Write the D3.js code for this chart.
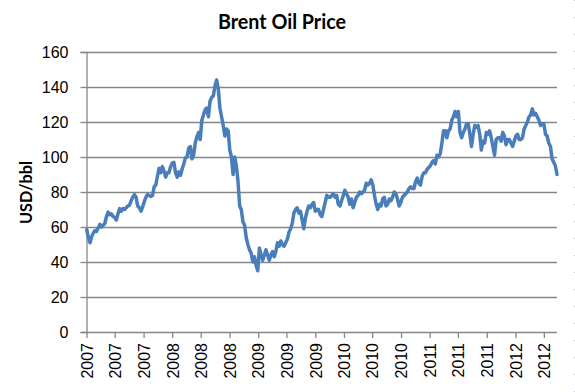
<!DOCTYPE html>
<html>
<head>
<meta charset="utf-8">
<script src="https://cdn.jsdelivr.net/npm/d3@7"></script>
<style>
  html, body { margin: 0; padding: 0; background: #fff; }
  svg { display: block; }
</style>
</head>
<body>
<svg id="chart" width="575" height="392"></svg>
<script>
// ---- Data: weekly Brent price (USD/bbl), one value per week starting Tue 2 Jan 2007 ----
const firstWeek = "2007-01-02";
const prices2007 = [58.5,54,51,54.5,56.5, 58,57.5,59.5,61.5, 60,61,62,66, 68.5,67,67.5,66,
  65.5,64,67.5,70.5,69, 70.5,70,71,72, 72.5,75,77,78.5,77, 72,71,69,71.5, 74.5,77,78.5,78,
  77.5,78,83,84,89, 93.5,91,94.5,92, 88.5,91,91,94.5];
const prices2008 = [96.5,97,91,88.5,91.5, 89.5,93,96,99.5, 100,105,106,99, 101,108,111.5,114,110,
  121,124,127,128, 123,132,134,135, 140.5,144,139,128,123, 118,112,116,115, 104,100,90,100,95,
  86,72,70,63, 61,54,50,47, 45,40,43,38,35];
const prices2009 = [48,44,41,44, 47,44,41,44, 46,43,46,51,49, 52,50,49,51, 53,57,59,62,
  68,70,71,68,69, 64,59,65,69, 72,71,73,74, 69,70,70,67,66, 70,74,78,77, 77,78,79,77, 78,73,72,75,78];
const prices2010 = [81,79,77,73, 76,71,74,77, 78,80,79,80,81, 85,84,85,87, 84,78,73,70,
  73,72,76,77,72, 73,76,75,77, 80,79,76,72,74, 77,78,79,80, 82,83,82,82, 86,88,85,84,89, 91,91,93,94];
const prices2011 = [95,97,98,96, 101,100,102,108, 115,115,111,115,116, 121,123,126,123,
  126,114,111,114,116, 119,119,113,106, 113,118,117,118, 113,104,109,108,114, 113,115,111,106,
  101,110,111,111, 109,114,112,107,110, 110,108,106,109];
const prices2012 = [112,113,110,110,111, 116,118,120,123, 124,127.5,124,125, 123,121,118,119,
  119,113,112,108,106, 99,97,95,90];

const yTicks = [0, 20, 40, 60, 80, 100, 120, 140, 160];
const titleText = "Brent Oil Price";
const yLabel = "USD/bbl";

(function () {
// ---- Build series ----
const parse = d3.timeParse("%Y-%m-%d");
const start = parse(firstWeek);
const allPrices = [].concat(prices2007, prices2008, prices2009, prices2010, prices2011, prices2012);
const data = allPrices.map((v, i) => ({ date: d3.timeWeek.offset(start, i), value: v }));

// ---- Layout ----
const svg = d3.select("#chart");
const plotL = 86.5, plotR = 557, plotT = 52, plotB = 332;
const grey = "#868686";

const x = d3.scaleTime()
  .domain([parse("2007-01-01"), data[data.length - 1].date])
  .range([plotL, plotR]);
const y = d3.scaleLinear().domain([0, 160]).range([plotB, plotT]);

// right-edge faint dotted border
svg.append("line")
  .attr("x1", 574.5).attr("x2", 574.5).attr("y1", 0).attr("y2", 392)
  .attr("stroke", "#b8c4d8").attr("stroke-width", 1).attr("stroke-dasharray", "1,16");

// gridlines
svg.append("g").selectAll("line")
  .data(yTicks.filter(t => t > 0))
  .join("line")
  .attr("x1", plotL).attr("x2", plotR)
  .attr("y1", d => Math.round(y(d)) + 0.5).attr("y2", d => Math.round(y(d)) + 0.5)
  .attr("stroke", grey).attr("stroke-width", 1.3);

// y axis
const yAxis = svg.append("g")
  .attr("transform", `translate(${plotL},0)`)
  .call(d3.axisLeft(y).tickValues(yTicks).tickSize(6).tickPadding(12).tickFormat(d3.format("d")));
yAxis.select(".domain").attr("stroke", grey).attr("stroke-width", 1.3);
yAxis.selectAll(".tick line").attr("stroke", grey).attr("stroke-width", 1.3);
yAxis.selectAll(".tick text")
  .attr("font-family", "'Liberation Sans', Arial, sans-serif")
  .attr("font-size", 16).attr("fill", "#000");

// x axis
const xAxis = svg.append("g")
  .attr("transform", `translate(0,${plotB})`)
  .call(d3.axisBottom(x).ticks(d3.timeMonth.every(4)).tickSize(6).tickFormat(d3.timeFormat("%Y")));
xAxis.select(".domain").attr("stroke", grey).attr("stroke-width", 1.3)
  .attr("d", `M${plotL},0.5H${plotR}`);
xAxis.selectAll(".tick line").attr("stroke", grey).attr("stroke-width", 1.3);
xAxis.selectAll(".tick text")
  .attr("font-family", "'Liberation Sans', Arial, sans-serif")
  .attr("font-size", 16).attr("fill", "#000")
  .attr("text-anchor", "end")
  .attr("transform", "rotate(-90)")
  .attr("x", -11).attr("y", 0).attr("dy", "0.36em");

// line
const line = d3.line()
  .x(d => x(d.date))
  .y(d => y(d.value))
  .curve(d3.curveLinear);
svg.append("path")
  .datum(data)
  .attr("d", line)
  .attr("fill", "none")
  .attr("stroke", "#4a7ebb")
  .attr("stroke-width", 3.5)
  .attr("stroke-linejoin", "round")
  .attr("stroke-linecap", "round");

// title
svg.append("text")
  .attr("x", 282).attr("y", 29)
  .attr("text-anchor", "middle")
  .attr("font-family", "Lato, 'Open Sans', sans-serif")
  .attr("font-weight", "bold")
  .attr("font-size", 20)
  .attr("textLength", 128).attr("lengthAdjust", "spacingAndGlyphs")
  .text(titleText);

// y label
svg.append("text")
  .attr("transform", "translate(32,192.5) rotate(-90)")
  .attr("text-anchor", "middle")
  .attr("font-family", "Lato, 'Open Sans', sans-serif")
  .attr("font-weight", "bold")
  .attr("font-size", 17)
  .attr("textLength", 63).attr("lengthAdjust", "spacingAndGlyphs")
  .text(yLabel);
})();
</script>
</body>
</html>
